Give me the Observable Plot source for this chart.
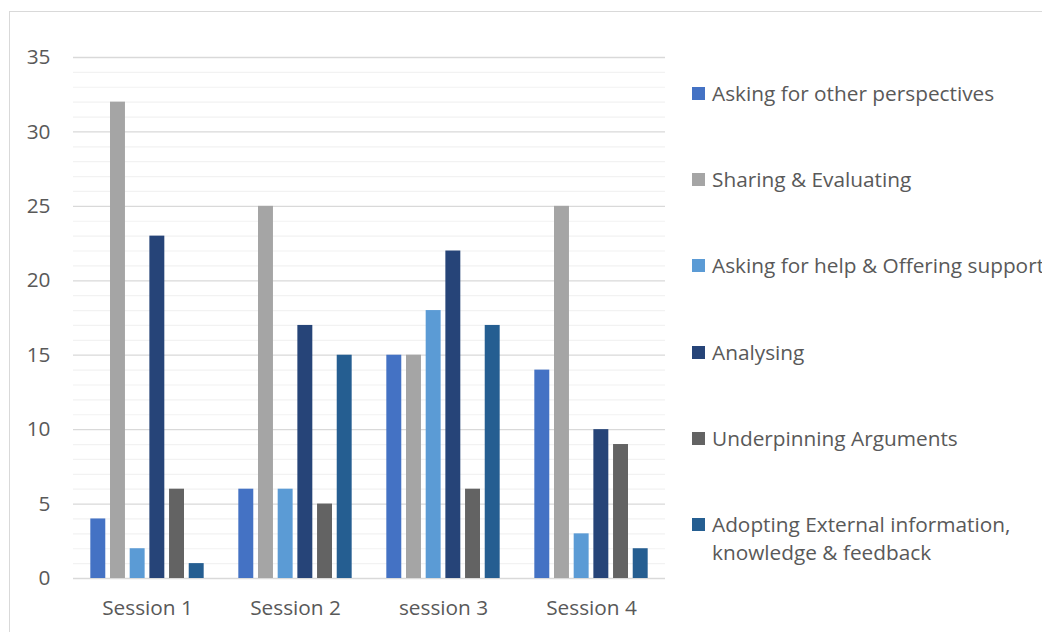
<!DOCTYPE html>
<html><head><meta charset="utf-8">
<script src="https://cdn.jsdelivr.net/npm/d3@7"></script>
<script src="https://cdn.jsdelivr.net/npm/@observablehq/plot@0.6"></script>
<style>
html,body{margin:0;padding:0;background:#fff;overflow:hidden;width:1042px;height:632px;}
#frame{position:absolute;left:9px;top:11px;width:1100px;height:700px;border:1px solid #d9d9d9;box-sizing:border-box;}
#chart{position:absolute;left:0;top:0;}
#legend{position:absolute;left:692px;top:79px;font-family:"Open Sans",sans-serif;font-size:20.8px;color:#595959;}
.item{display:flex;align-items:flex-start;height:86.2px;white-space:nowrap;}
.sw{width:13px;height:13px;margin-top:8px;margin-right:7px;flex:none;}
.lbl{line-height:28px;}
</style></head>
<body>
<div id="frame"></div>
<div id="chart"></div>
<div id="legend"></div>
<script>
const sessions = ["Session 1", "Session 2", "session 3", "Session 4"];
const series = ["Asking for other perspectives", "Sharing & Evaluating", "Asking for help & Offering support", "Analysing", "Underpinning Arguments", "Adopting External information, knowledge & feedback"];
const colors = ["#4472C4", "#A5A5A5", "#5B9BD5", "#264478", "#636363", "#255E91"];
const askingPerspectives = [4, 6, 15, 14];
const sharingEvaluating = [32, 25, 15, 25];
const askingHelp = [2, 6, 18, 3];
const analysing = [23, 17, 22, 10];
const underpinning = [6, 5, 6, 9];
const adopting = [1, 15, 17, 2];
const yTicks = [0, 5, 10, 15, 20, 25, 30, 35];

const valuesBySeries = [askingPerspectives, sharingEvaluating, askingHelp, analysing, underpinning, adopting];
const data = [];
sessions.forEach((s, i) => series.forEach((k, j) => data.push({session: s, series: k, value: valuesBySeries[j][i]})));
const minorTicks = d3.range(0, 36, 1).filter(v => v % 5 !== 0);

const plot = Plot.plot({
  width: 680, height: 632,
  marginLeft: 73, marginRight: 15, marginTop: 57, marginBottom: 54,
  style: {fontFamily: "'Open Sans', sans-serif", fontSize: "20.8px", color: "#595959", background: "transparent"},
  fx: {domain: sessions, padding: 0, round: false, label: null},
  x: {domain: series, paddingInner: 0.24, paddingOuter: 0.88, round: false, axis: null},
  y: {domain: [0, 35], label: null},
  color: {domain: series, range: colors},
  marks: [
    Plot.ruleY(minorTicks, {stroke: "#f2f2f2", strokeWidth: 1.2}),
    Plot.ruleY(yTicks, {stroke: "#d9d9d9", strokeWidth: 1.3}),
    Plot.axisY(yTicks, {tickSize: 0, tickPadding: 23, label: null, fill: "#595959", fontSize: 20.8}),
    Plot.axisFx({anchor: "bottom", tickSize: 0, tickPadding: 22, label: null, fill: "#595959", fontSize: 20.8}),
    Plot.barY(data, {fx: "session", x: "series", y: "value", fill: "series"})
  ]
});
document.getElementById("chart").appendChild(plot);

const leg = document.getElementById("legend");
series.forEach((s, i) => {
  const it = document.createElement("div"); it.className = "item";
  const sw = document.createElement("div"); sw.className = "sw"; sw.style.background = colors[i];
  const lb = document.createElement("div"); lb.className = "lbl";
  lb.innerHTML = s.replace(/&/g, "&amp;").replace(", ", ",<br>");
  it.appendChild(sw); it.appendChild(lb); leg.appendChild(it);
});
</script>
</body></html>
